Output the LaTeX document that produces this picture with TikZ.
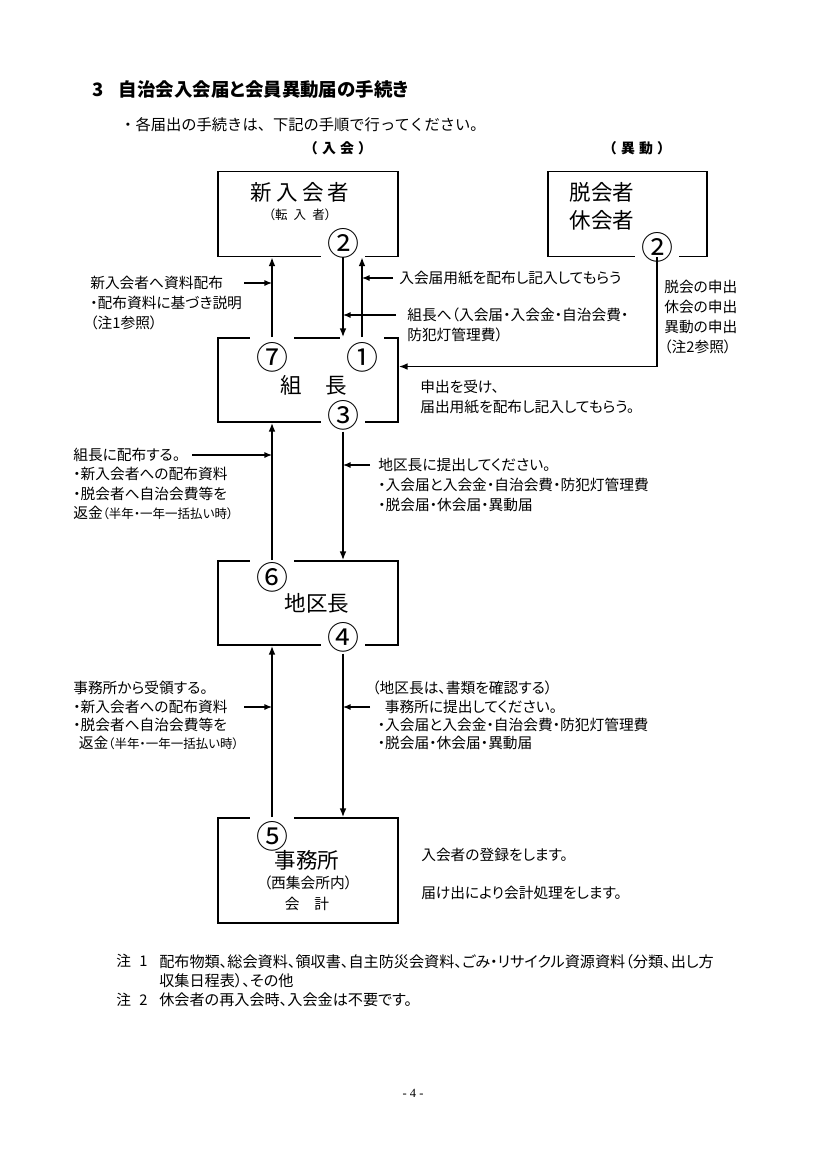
\documentclass[tikz,border=0pt]{standalone}
\usepackage{fontspec}
\setmainfont{Noto Sans CJK JP}[RawFeature=+palt]
\newfontfamily\fixedfont{Noto Sans CJK JP}
\newfontfamily\pgfont{Liberation Serif}
\usepackage{tikz}
\usetikzlibrary{arrows.meta,positioning}

\begin{document}
\begin{tikzpicture}[x=0.72pt,y=-0.72pt,font=\fontsize{10.6}{14.4}\selectfont,
  box/.style={draw,line width=1.2pt,minimum width=129.6pt,minimum height=61.2pt,inner sep=0pt},
  num/.style={fill=white,inner xsep=4pt,inner ysep=6.5pt,font=\fontsize{23}{23}\selectfont},
  numb/.style={num,inner ysep=1pt},
  big/.style={inner sep=0pt,align=left,font=\fontsize{15.5}{20}\selectfont},
  txt/.style={inner sep=0pt,align=left,anchor=north west},
  one/.style={inner sep=0pt,anchor=west},
  flow/.style={-{Latex[length=2.2mm,width=1.7mm]},line width=1.1pt},
  ptr/.style={-{Latex[length=1.9mm,width=1.5mm]},line width=0.75pt}]
\useasboundingbox (0,0) rectangle (826,1169);
% headings
\node[one,font=\bfseries\fontsize{13.3}{15}\selectfont](ttl) at (92,90){3\hspace{11pt}自治会入会届と会員異動届の手続き};
\node[one,font=\fixedfont\fontsize{11}{13}\selectfont](sub) at (120,125){・各届出の手続きは、下記の手順で行ってください。};
\node[inner sep=0pt,font=\fixedfont\bfseries](hd1) at (338,148){（\hspace{3pt}入\hspace{3pt}会\hspace{3pt}）};
\node[inner sep=0pt,font=\fixedfont\bfseries](hd2) at (637,148){（\hspace{3pt}異\hspace{3pt}動\hspace{3pt}）};
% boxes
\node[box](nyu) at (308,214){};
\node[box,minimum width=114.5pt](ido) at (627.5,214){};
\node[box,minimum height=60.5pt](kumi) at (308,380){};
\node[box,minimum height=60.5pt](chiku) at (308,603){};
\node[box,minimum height=75.6pt](jimu) at (308,870.5){};
% step numbers
\node[num](n2a) at (343,243){②};
\node[num](n2b) at (657,247){②};
\node[num](n7) at (272,357){⑦};
\node[num](n1) at (362,357){①};
\node[numb](n3) at (343,415){③};
\node[num](n6) at (272,577){⑥};
\node[numb](n4) at (343,637){④};
\node[num](n5) at (272,836){⑤};
% box texts
\node[big](t1) at (300,192){新\kern3pt 入\kern3pt 会\kern3pt 者};
\node[inner sep=0pt,font=\fontsize{9}{10}\selectfont](t1s) at (300,215){（転\enspace 入\enspace 者）};
\node[big](t2) at (602,206){脱会者\\休会者};
\node[big](t3) at (314,385){組\hspace{17pt}長};
\node[big](t4) at (317,603){地区長};
\node[big](t5) at (307,860){事務所};
\node[inner sep=0pt](t5s) at (308,883){（西集会所内）};
\node[inner sep=0pt](t5k) at (307,904){会\hspace{1em}計};
% side texts
\node[txt](a1) at (90,276){新入会者へ資料配布\\・配布資料に基づき説明\\（注1参照）};
\node[one](b1) at (399,278){入会届用紙を配布し記入してもらう};
\node[txt](b2) at (407,308){組長へ（入会届・入会金・自治会費・\\防犯灯管理費）};
\node[txt](c1) at (664,280){脱会の申出\\休会の申出\\異動の申出\\（注2参照）};
\node[txt](c2) at (420,380){申出を受け、\\届出用紙を配布し記入してもらう。};
\node[txt,font=\fontsize{10.6}{13.9}\selectfont](d1) at (73,448){組長に配布する。\\・新入会者への配布資料\\・脱会者へ自治会費等を\\返金{\small（半年・一年一括払い時）}};
\node[txt](e1) at (378,458){地区長に提出してください。\\・入会届と入会金・自治会費・防犯灯管理費\\・脱会届・休会届・異動届};
\node[txt,font=\fontsize{10.6}{13.2}\selectfont](f1) at (73,681){事務所から受領する。\\・新入会者への配布資料\\・脱会者へ自治会費等を\\\hspace{4pt}返金{\small（半年・一年一括払い時）}};
\node[txt,font=\fontsize{10.6}{13.2}\selectfont](g1) at (372,681){（地区長は、書類を確認する）\\\hspace{9pt}事務所に提出してください。\\\hspace{4pt}・入会届と入会金・自治会費・防犯灯管理費\\\hspace{4pt}・脱会届・休会届・異動届};
\node[one](h1) at (421,855){入会者の登録をします。};
\node[one](h2) at (421,893){届け出により会計処理をします。};
% notes
\node[one](k1) at (116,961){注\hspace{6pt}1};
\node[txt,font=\fontsize{10.9}{13.7}\selectfont](k2) at (159,954){配布物類、総会資料、領収書、自主防災会資料、ごみ・リサイクル資源資料（分類、出し方\\収集日程表）、その他};
\node[one](k3) at (116,1000){注\hspace{6pt}2};
\node[one,font=\fontsize{10.9}{13.7}\selectfont](k4) at (159,1000){休会者の再入会時、入会金は不要です。};
\node[font=\pgfont\fontsize{9}{10}\selectfont](pg) at (413,1093){- 4 -};
% flow arrows
\draw[flow](n7|-kumi.north)--(n7|-nyu.south);
\draw[flow](n2a|-nyu.south)--(n2a|-kumi.north);
\draw[flow](n1|-kumi.north)--(n1|-nyu.south);
\draw[flow](n2b|-ido.south)|-([yshift=9.7pt]kumi.east);
\draw[flow](n6|-chiku.north)--(n6|-kumi.south);
\draw[flow](n3.south)--(n3|-chiku.north);
\draw[flow](n5|-jimu.north)--(n5|-chiku.south);
\draw[flow](n4.south)--(n4|-jimu.north);
% pointers to the flow lines
\coordinate(a1a) at (244,283);
\coordinate(b1a) at (393,278);
\coordinate(b2a) at (396,315);
\coordinate(d1a) at (192,455);
\coordinate(e1a) at (370,465);
\coordinate(f1a) at (244,707);
\coordinate(g1a) at (370,707);
\draw[ptr](a1a)--(n7|-a1a);
\draw[ptr](b1a)--(n1|-b1a);
\draw[ptr](b2a)--(n2a|-b2a);
\draw[ptr](d1a)--(n6|-d1a);
\draw[ptr](e1a)--(n3|-e1a);
\draw[ptr](f1a)--(n5|-f1a);
\draw[ptr](g1a)--(n4|-g1a);
\end{tikzpicture}
\end{document}
